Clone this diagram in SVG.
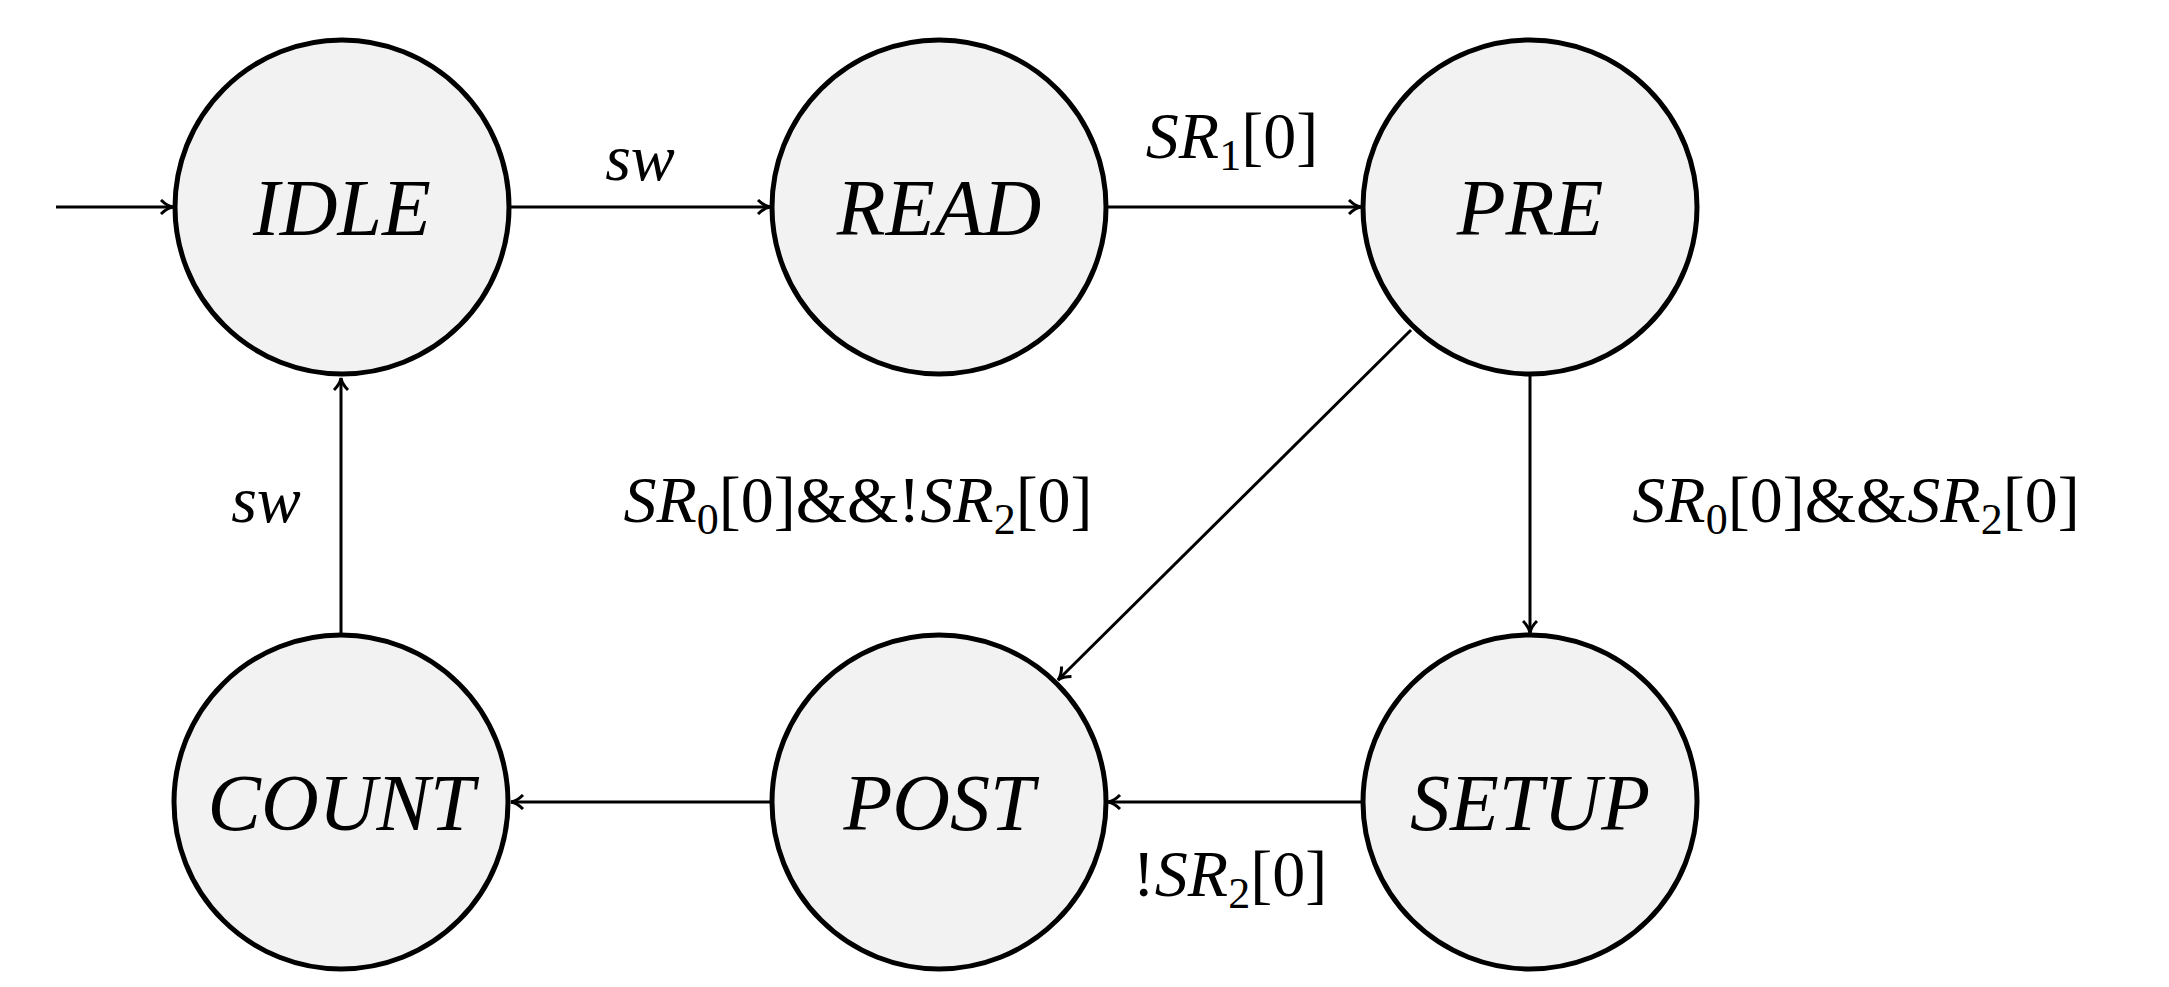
<svg xmlns="http://www.w3.org/2000/svg" width="2169" height="987" viewBox="0 0 2169 987">
<style>
.n{fill:#f2f2f2;stroke:#000;stroke-width:5}
.t{font-family:"Liberation Serif",serif;font-style:italic;font-size:80px;text-anchor:middle}
.l{font-family:"Liberation Serif",serif;font-size:66px;text-anchor:middle}
.e{stroke:#000;stroke-width:3;fill:none;marker-end:url(#a)}
.s{font-size:44px}
</style>
<defs><marker id="a" markerWidth="16" markerHeight="16" refX="14" refY="8" orient="auto" markerUnits="userSpaceOnUse"><path d="M2,1 Q8,7 14,8 Q8,9 2,15" fill="none" stroke="#000" stroke-width="3"/></marker></defs>
<g id="connectors">
<line class="e" x1="56" y1="207" x2="173" y2="207"/>
<line class="e" x1="511" y1="207" x2="770" y2="207"/>
<line class="e" x1="1108" y1="207" x2="1361" y2="207"/>
<line class="e" x1="1530" y1="376" x2="1530" y2="633"/>
<line class="e" x1="1411" y1="330" x2="1058" y2="680"/>
<line class="e" x1="1361" y1="802" x2="1108" y2="802"/>
<line class="e" x1="770" y1="802" x2="511" y2="802"/>
<line class="e" x1="341" y1="633" x2="341" y2="378"/>
<text class="l" x="640" y="180" font-style="italic">sw</text>
<text class="l" x="1232" y="158"><tspan font-style="italic">SR</tspan><tspan class="s" dy="12">1</tspan><tspan dy="-12">[0]</tspan></text>
<text class="l" x="858" y="522"><tspan font-style="italic">SR</tspan><tspan class="s" dy="12">0</tspan><tspan dy="-12">[0]&amp;&amp;!</tspan><tspan font-style="italic">SR</tspan><tspan class="s" dy="12">2</tspan><tspan dy="-12">[0]</tspan></text>
<text class="l" x="1856" y="522"><tspan font-style="italic">SR</tspan><tspan class="s" dy="12">0</tspan><tspan dy="-12">[0]&amp;&amp;</tspan><tspan font-style="italic">SR</tspan><tspan class="s" dy="12">2</tspan><tspan dy="-12">[0]</tspan></text>
<text class="l" x="266" y="522" font-style="italic">sw</text>
<text class="l" x="1230" y="896">!<tspan font-style="italic">SR</tspan><tspan class="s" dy="12">2</tspan><tspan dy="-12">[0]</tspan></text>
</g>
<g id="IDLE"><circle class="n" cx="342" cy="207" r="167"/><text class="t" x="342" y="235">IDLE</text></g>
<g id="READ"><circle class="n" cx="939" cy="207" r="167"/><text class="t" x="939" y="235">READ</text></g>
<g id="PRE"><circle class="n" cx="1530" cy="207" r="167"/><text class="t" x="1530" y="235">PRE</text></g>
<g id="COUNT"><circle class="n" cx="341" cy="802" r="167"/><text class="t" x="341" y="830">COUNT</text></g>
<g id="POST"><circle class="n" cx="939" cy="802" r="167"/><text class="t" x="939" y="830">POST</text></g>
<g id="SETUP"><circle class="n" cx="1530" cy="802" r="167"/><text class="t" x="1530" y="830">SETUP</text></g>
</svg>
